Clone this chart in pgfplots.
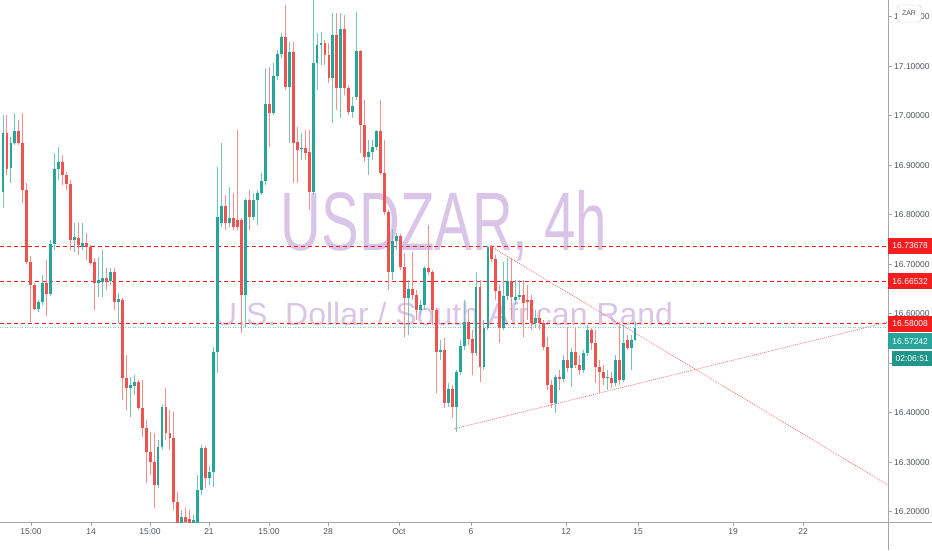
\documentclass[border=0pt]{standalone}
\usepackage{pgfplots}
\pgfplotsset{compat=1.18}
\usepackage{pgfplotstable}
\usepackage{fontspec}
\setmainfont{Liberation Sans}

\definecolor{up}{HTML}{26A69A}
\definecolor{down}{HTML}{EF5350}
\definecolor{lvl}{HTML}{F01E1E}
\definecolor{wm}{RGB}{218,197,232}
\definecolor{axisgray}{HTML}{A3A6AF}
\definecolor{labgray}{HTML}{50535E}
\definecolor{trend}{HTML}{F07070}

% m = candle index (4h bars), o h l c = USD/ZAR
\pgfplotstableread{
m o h l c
-1 16.749 16.860 16.729 16.850
0 16.846 17.002 16.814 16.965
2 16.895 16.957 16.864 16.945
3 16.945 17.006 16.941 16.969
9 16.610 16.628 16.604 16.624
10 16.624 16.679 16.618 16.662
12 16.640 16.749 16.636 16.741
13 16.741 16.925 16.729 16.893
14 16.893 16.937 16.870 16.907
18 16.749 16.784 16.725 16.755
20 16.735 16.784 16.729 16.743
24 16.662 16.715 16.634 16.668
25 16.664 16.729 16.634 16.672
27 16.666 16.693 16.658 16.685
29 16.624 16.642 16.582 16.630
32 16.450 16.473 16.392 16.456
33 16.454 16.477 16.436 16.462
39 16.254 16.345 16.248 16.331
40 16.331 16.416 16.325 16.412
45 16.167 16.204 16.153 16.190
48 16.178 16.194 16.153 16.184
49 16.178 16.275 16.163 16.244
50 16.244 16.335 16.234 16.329
52 16.268 16.293 16.254 16.281
53 16.281 16.533 16.250 16.523
54 16.523 16.897 16.481 16.796
55 16.784 16.945 16.775 16.818
57 16.784 16.856 16.775 16.794
61 16.638 16.834 16.571 16.830
63 16.796 16.844 16.790 16.830
64 16.830 16.850 16.779 16.844
65 16.844 16.885 16.840 16.868
66 16.868 17.097 16.860 17.024
68 17.006 17.107 17.002 17.080
69 17.080 17.133 17.072 17.125
70 17.125 17.167 17.117 17.159
72 17.058 17.149 16.945 17.129
75 16.933 16.965 16.911 16.935
78 16.846 17.234 16.840 17.107
79 17.107 17.167 17.052 17.143
80 17.143 17.169 17.103 17.147
83 17.076 17.208 16.986 17.163
85 17.056 17.208 16.996 17.175
88 17.008 17.038 16.996 17.020
89 17.038 17.210 17.032 17.131
92 16.917 16.951 16.881 16.927
93 16.927 16.951 16.911 16.937
94 16.937 16.971 16.931 16.969
98 16.685 16.771 16.668 16.747
99 16.747 16.763 16.729 16.757
102 16.632 16.668 16.557 16.650
105 16.608 16.628 16.598 16.618
106 16.618 16.697 16.608 16.693
110 16.523 16.547 16.507 16.527
112 16.420 16.460 16.412 16.448
114 16.412 16.487 16.361 16.483
115 16.483 16.547 16.477 16.535
116 16.535 16.628 16.527 16.584
119 16.521 16.685 16.515 16.654
121 16.493 16.588 16.487 16.571
122 16.571 16.737 16.567 16.735
126 16.571 16.705 16.567 16.636
127 16.636 16.713 16.628 16.666
129 16.628 16.668 16.618 16.634
130 16.634 16.668 16.628 16.638
134 16.582 16.608 16.571 16.592
139 16.420 16.477 16.400 16.473
141 16.469 16.517 16.462 16.507
143 16.491 16.531 16.452 16.523
146 16.487 16.527 16.481 16.521
147 16.521 16.577 16.515 16.567
152 16.471 16.487 16.446 16.473
154 16.460 16.517 16.454 16.507
156 16.466 16.577 16.462 16.541
158 16.531 16.557 16.487 16.547
159 16.547 16.584 16.545 16.572
}\bull

\pgfplotstableread{
m o h l c
1 16.965 17.002 16.881 16.893
4 16.969 16.992 16.941 16.945
5 16.945 17.006 16.824 16.850
6 16.850 16.864 16.701 16.705
7 16.705 16.717 16.584 16.658
8 16.658 16.662 16.608 16.610
11 16.662 16.709 16.596 16.640
15 16.907 16.921 16.860 16.881
16 16.881 16.887 16.850 16.862
17 16.862 16.870 16.729 16.749
19 16.753 16.784 16.719 16.739
21 16.743 16.763 16.709 16.735
22 16.735 16.739 16.699 16.703
23 16.705 16.713 16.608 16.662
26 16.672 16.693 16.648 16.666
28 16.685 16.693 16.608 16.624
30 16.628 16.632 16.426 16.471
31 16.471 16.517 16.406 16.450
34 16.462 16.466 16.406 16.410
35 16.410 16.466 16.351 16.369
36 16.369 16.386 16.258 16.321
37 16.321 16.361 16.275 16.301
38 16.301 16.359 16.208 16.254
41 16.412 16.450 16.345 16.359
42 16.359 16.406 16.325 16.349
43 16.349 16.402 16.204 16.220
44 16.220 16.240 16.143 16.163
46 16.190 16.208 16.153 16.180
47 16.186 16.204 16.153 16.178
51 16.329 16.333 16.248 16.268
56 16.818 16.840 16.769 16.784
58 16.794 16.844 16.769 16.775
59 16.790 16.971 16.769 16.775
60 16.790 16.794 16.561 16.638
62 16.830 16.850 16.769 16.796
67 17.024 17.099 16.937 17.006
71 17.159 17.224 17.052 17.058
73 17.129 17.149 16.864 16.945
74 16.947 16.977 16.864 16.931
76 16.935 16.971 16.911 16.925
77 16.927 16.971 16.810 16.846
81 17.147 17.153 17.103 17.123
82 17.123 17.147 17.066 17.076
84 17.163 17.208 17.012 17.056
86 17.175 17.204 17.042 17.056
87 17.056 17.062 17.002 17.008
90 17.131 17.133 16.925 16.982
91 16.982 17.032 16.907 16.917
95 16.969 17.032 16.881 16.885
96 16.885 16.951 16.800 16.806
97 16.806 16.810 16.648 16.685
100 16.757 16.761 16.689 16.695
101 16.695 16.723 16.553 16.632
103 16.650 16.725 16.628 16.638
104 16.638 16.648 16.588 16.608
107 16.693 16.779 16.679 16.685
108 16.685 16.689 16.577 16.608
109 16.608 16.612 16.440 16.523
111 16.527 16.551 16.410 16.420
113 16.448 16.456 16.390 16.412
117 16.584 16.608 16.537 16.549
118 16.549 16.567 16.477 16.521
120 16.654 16.668 16.462 16.493
123 16.735 16.739 16.705 16.711
124 16.711 16.719 16.628 16.646
125 16.646 16.658 16.541 16.571
128 16.666 16.713 16.588 16.634
131 16.638 16.668 16.553 16.622
132 16.628 16.658 16.588 16.624
133 16.628 16.638 16.567 16.582
135 16.592 16.608 16.567 16.582
136 16.582 16.588 16.527 16.533
137 16.533 16.553 16.446 16.456
138 16.456 16.466 16.410 16.420
140 16.473 16.487 16.446 16.469
142 16.507 16.573 16.483 16.491
144 16.523 16.571 16.491 16.497
145 16.497 16.517 16.477 16.487
148 16.567 16.571 16.527 16.541
149 16.541 16.567 16.460 16.493
150 16.493 16.507 16.440 16.483
151 16.483 16.497 16.456 16.471
153 16.471 16.483 16.450 16.460
155 16.507 16.584 16.456 16.466
157 16.547 16.557 16.527 16.531
}\bear

\begin{document}
\begin{tikzpicture}
\begin{axis}[
  name=ax,
  at={(0,0)}, anchor=south west,
  scale only axis, width=888pt, height=522pt,
  xmin=-0.755, xmax=222.64, ymin=16.1793, ymax=17.2337,
  axis x line*=bottom, axis y line*=right,
  axis line style={-, axisgray, line width=0.8pt},
  tick align=outside, major tick length=4pt,
  tick style={axisgray, line width=0.8pt},
  xtick={7.04,22.14,36.98,51.82,66.92,81.76,99.62,117.74,141.64,159.75,183.65,201.26},
  xticklabels={15:00,14,15:00,21,15:00,28,Oct,6,12,15,19,22},
  ytick={16.2,16.3,16.4,16.5,16.6,16.7,16.8,16.9,17.0,17.1,17.2},
  yticklabels={16.20000,16.30000,16.40000,16.50000,16.60000,16.70000,16.80000,16.90000,17.00000,17.10000,17.20000},
  xticklabel style={font=\fontsize{8.5}{10}\selectfont, text=labgray, inner sep=2pt},
  yticklabel style={font=\fontsize{8.5}{10}\selectfont, text=labgray, inner sep=2pt},
  candle/.style={draw=none, no markers, forget plot,
    error bars/y dir=plus, error bars/y explicit, error bars/error mark=none},
  level/.style={color=lvl, solid, line width=1pt, dash pattern=on 4pt off 3pt, forget plot},
]
  % watermark
  \node[anchor=base, text=wm, font=\fontsize{83}{83}\selectfont, xscale=0.68]
    at (rel axis cs:0.5,0.521) {USDZAR, 4h};
  \node[anchor=base, text=wm, font=\fontsize{32}{32}\selectfont]
    at (rel axis cs:0.4995,0.377) {U.S. Dollar / South African Rand};

  % levels
  \addplot[level] coordinates {(-0.755,16.73678) (222.64,16.73678)};
  \addplot[level] coordinates {(-0.755,16.66532) (222.64,16.66532)};
  \addplot[level] coordinates {(-0.755,16.58008) (222.64,16.58008)};
  \addplot[color=up!55!white, line width=0.5pt, dash pattern=on 1pt off 1.5pt] coordinates {(-0.755,16.57242) (222.64,16.57242)};

  % triangle
  \addplot[color=trend, line width=0.7pt, dash pattern=on 1pt off 1pt] coordinates {(122.5,16.737) (222.64,16.254)};
  \addplot[color=trend, line width=0.7pt, dash pattern=on 1pt off 1pt] coordinates {(113.7,16.368) (222.64,16.583)};

  % wicks
  \addplot[candle, error bars/error bar style={draw=up!65!white, line width=1pt}]
    table[x=m, y=l, y error plus expr={\thisrow{h}-\thisrow{l}}] {\bull};
  \addplot[candle, error bars/error bar style={draw=down!65!white, line width=1pt}]
    table[x=m, y=l, y error plus expr={\thisrow{h}-\thisrow{l}}] {\bear};
  % bodies
  \addplot[candle, error bars/error bar style={draw=up, line width=2.9pt}]
    table[x=m, y=o, y error plus expr={\thisrow{c}-\thisrow{o}}] {\bull};
  \addplot[candle, error bars/error bar style={draw=down, line width=2.9pt}]
    table[x=m, y=c, y error plus expr={\thisrow{o}-\thisrow{c}}] {\bear};

  \coordinate (l1) at (axis cs:222.64,16.73678);
  \coordinate (l2) at (axis cs:222.64,16.66532);
  \coordinate (l3) at (axis cs:222.64,16.58008);
  \coordinate (l4) at (axis cs:222.64,16.57242);
\end{axis}

\draw[axisgray, line width=0.8pt] (ax.south east) -- ++(0,-28pt);
\draw[axisgray, line width=0.8pt] (ax.south east) -- ++(44pt,0);

\tikzset{lab/.style={anchor=west, inner sep=0pt, minimum width=44pt, minimum height=16pt,
  text=white, font=\fontsize{8.5}{10}\selectfont}}
\node[lab, fill=lvl] at (l1) {16.73678};
\node[lab, fill=lvl] at (l2) {16.66532};
\node[lab, fill=lvl] at (l3) {16.58008};
\node[lab, fill=up] at ([yshift=-14pt]l4) {16.57242};
\node[lab, fill=up!90!black, minimum width=40pt, minimum height=15pt] at ([xshift=4pt,yshift=-31pt]l4) {02:06:51};

\node[draw=axisgray!60, fill=white, rounded corners=3pt, inner sep=0pt, minimum width=24pt,
  minimum height=17pt, text=labgray, font=\fontsize{7}{8}\selectfont] at (909pt,508.5pt) {ZAR};

\pgfresetboundingbox
\useasboundingbox (0,-28pt) rectangle (932pt,522pt);
\end{tikzpicture}
\end{document}
